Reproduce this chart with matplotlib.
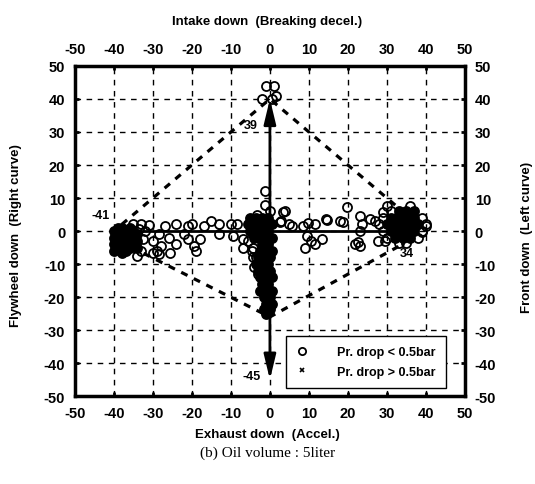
import matplotlib
matplotlib.use("Agg")
import matplotlib.pyplot as plt

plt.rcParams['font.family'] = ['Liberation Sans', 'DejaVu Sans']
plt.rcParams['font.weight'] = 'bold'
plt.rcParams['axes.unicode_minus'] = False

ticks = [-50, -40, -30, -20, -10, 0, 10, 20, 30, 40, 50]

# left cluster, so many overlapping circles it prints solid black
left_x = [-40, -40, -40, -40, -39, -39, -39, -39, -38, -38, -38, -38, -38, -37, -37, -37, -37,
          -36, -36, -36, -36, -35, -35, -35, -34, -34, -34]
left_y = [0, -2, -4, -6, 1, -1, -3, -5, 1, -1, -3, -5, -6.5, 0, -2, -4, -6,
          1, -1, -3, -5, 0, -2, -4, -1, -3, -5]

# open circles along the left half
lscat_x = [-31, -30, -29, -28.5, -27, -26, -24, -24, -22, -21, -21, -20, -19.5, -19, -18, -17,
           -15, -13, -13, -10, -8.5, -33, -32, -28, -25.5, -9.5, -7, -7, -4.4, -2, -4.4,
           -33.5, -32.5, -34, -30, -28.5, -33, -35]
lscat_y = [1.8, -3, -6, -1, 1.5, -2, 2, -4, -1, 1.5, -2.4, 2, -4.5, -6, -2.4, 1.5,
           3, 2, -1, 2, 2, -6, 0, -4.5, -6.5, -1.5, -2.4, -5, -5, -5.5, -7.9,
           0.5, -2.5, -7.5, -6.5, -7, 2, 2]

# centre cluster (x near 0), solid black
mid_x = [-5, -3.5, -2, -0.5, -5.5, -4, -2.5, -1, 0.5, -5, -3.5, -2, -0.5, -4, -2.5, -1, 0.5,
         -2, -0.5, -2.5, -1, 0.5, -3, -1.5, 0, -3.5, -2, -0.5, -3, -1.5, 0, -2.5, -1, 0.5,
         -2, -0.5, -2.5, -1, 0.5, -1.5, 0, -1, 0.5, -1.5, 0, -1]
mid_y = [4, 4, 4, 4, 2, 2, 2, 2, 2, 0, 0, 0, 0, -2, -2, -2, -2,
         -4, -4, -6, -6, -6, -8, -8, -8, -10, -10, -10, -12, -12, -12, -14, -14, -14,
         -16, -16, -18, -18, -18, -20, -20, -22, -22, -23.5, -23.5, -25]

# open circles near the centre and the top
mtop_x = [-1.3, -1.3, -3.3, -1, 1, -2, 0.5, 1.5, -5.5, -4.5, -3.5, -4, -3, -1.5, 0]
mtop_y = [12, 8, 5, 44, 44, 40, 40, 41, -3, -6, -8, -11, -13, -5, 6]

# open circles along the right half
rscat_x = [3.8, 5, 2.8, 8.5, 9.7, 11.5, 14.4, 18, 9.5, 10.5, 9, 11.5, 13.3, 2.6, 3.3, 5.6,
           19.7, 18.7, 23, 23.6, 25.6, 27, 29, 30, 36, 21.8, 23, 27.7, 29.5, 23, 14.6, 22.5,
           29, 28, 40, 29, 39, 30, 38, 31, 39, 40, 39, 33, 35]
rscat_y = [6, 2, 3, 1.5, 2.4, 2, 3.6, 3, -1.5, -3, -5, -4, -2.4, 2.7, 5.8, 1.5,
           7.3, 2.7, 4.5, 2, 3.6, 3, 5.7, 7.6, 7.6, -4, -4.5, -3, -3, 0, 3.3, -3.3,
           4, 2, 2, 0, 0, -2, -2, 6, 4, 1.5, -0.3, -3.5, -3.5]

# right cluster, solid black
right_x = [33, 35, 37, 31, 33, 35, 37, 30, 32, 34, 36, 38, 31, 33, 35, 37, 32, 34, 36]
right_y = [6, 6, 6, 4, 4, 4, 4, 2, 2, 2, 2, 2, 0, 0, 0, 0, -2, -2, -2]

# pressure drop > 0.5 bar (hidden inside the dense clusters)
hi_x = [-38, -1, 35]
hi_y = [-2, -15, 1]

# dashed envelope
env_x = [-38, 0, 35, 34, 0, -37, -38]
env_y = [2, 40, 5, -4, -26, -4, 2]

labels = [(-41, -43.5, 5), (39, -5, 32), (34, 35, -6.5), (-45, -4.6, -44)]

fig = plt.figure(figsize=(5.35, 4.85), dpi=100)
ax = fig.add_axes([0.140, 0.181, 0.729, 0.681])

ax.set_xlim(-50, 50)
ax.set_ylim(-50, 50)
ax.set_xticks(ticks)
ax.set_yticks(ticks)
ax.set_axisbelow(True)
ax.grid(True, color='k', lw=1.0, ls=(0, (4, 4)))
for s in ax.spines.values():
    s.set_linewidth(2.5)
ax.tick_params(direction='in', length=3, width=2, top=True, right=True,
               labeltop=True, labelright=True, labelsize=10.5, pad=7)

open_x = lscat_x + mtop_x + rscat_x
open_y = lscat_y + mtop_y + rscat_y
ax.plot(open_x, open_y, 'o', mfc='none', mec='k', mew=1.3, ms=6.5, zorder=3,
        label='Pr. drop < 0.5bar')
ax.plot(left_x + mid_x + right_x, left_y + mid_y + right_y, 'o', mfc='k', mec='k',
        mew=1.3, ms=6.5, zorder=3)
ax.plot(hi_x, hi_y, 'x', color='k', mew=1.2, ms=4, zorder=3, label='Pr. drop > 0.5bar')

ax.plot(env_x, env_y, color='k', lw=2.3, ls=(0, (2.2, 2.2)), zorder=4)
ax.plot([-38, 36], [0, 0], color='k', lw=2, zorder=4)
for tip in [40, -45]:
    ax.annotate('', xy=(0, tip), xytext=(0, -26),
                arrowprops=dict(arrowstyle='-|>,head_length=1.5,head_width=0.36',
                                mutation_scale=10, color='k', lw=2,
                                shrinkA=0, shrinkB=0), zorder=5)

for txt, x, y in labels:
    ax.text(x, y, str(txt), fontsize=9, fontweight='bold', ha='center', va='center', zorder=6)

leg = ax.legend(loc='upper left', bbox_to_anchor=(0.541, 0.182), borderaxespad=0,
                fancybox=False, edgecolor='k', framealpha=1, prop={'size': 9, 'weight': 'bold'},
                handlelength=1.0, handletextpad=2.3, borderpad=0.8, labelspacing=0.6,
                markerscale=0.8)
leg.get_frame().set_linewidth(1.0)

fig.text(0.5, 0.955, 'Intake down  (Breaking decel.)', ha='center', va='center', fontsize=9.5)
fig.text(0.5, 0.103, 'Exhaust down  (Accel.)', ha='center', va='center', fontsize=9.5)
fig.text(0.03, 0.515, 'Flywheel down  (Right curve)', ha='center', va='center', fontsize=9.5,
         rotation=90)
fig.text(0.985, 0.51, 'Front down  (Left curve)', ha='center', va='center', fontsize=9.5,
         rotation=90)
fig.text(0.5, 0.066, '(b) Oil volume : 5liter', ha='center', va='center', fontsize=11,
         fontweight='normal', family=['Liberation Serif', 'DejaVu Serif'])

fig.savefig('out.png', dpi=100)
